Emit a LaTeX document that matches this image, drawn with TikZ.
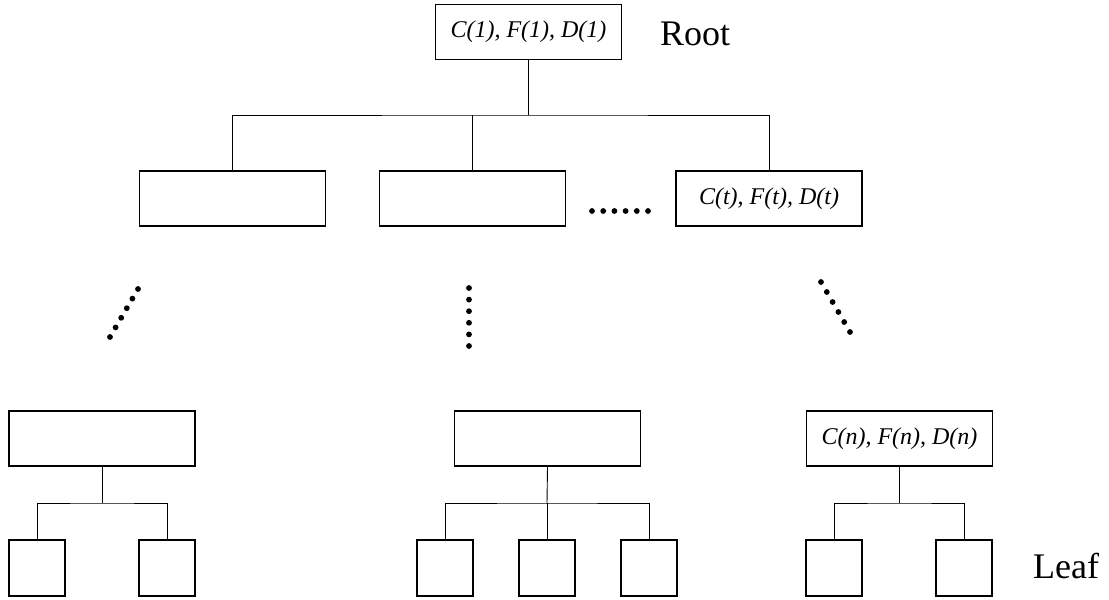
\documentclass[tikz,border=0pt]{standalone}
\usepackage{fontspec}
\setmainfont{Liberation Serif}
\usetikzlibrary{calc,positioning}

\tikzset{
  nodebox/.style={draw,line width=1.5pt,minimum width=186pt,minimum height=55pt,
    inner sep=0pt,font=\fontsize{24}{28}\selectfont\itshape},
  leafbox/.style={draw,line width=1.5pt,minimum width=56pt,minimum height=56pt,inner sep=0pt},
  link/.style={line width=0.9pt},
  tag/.style={font=\fontsize{36}{40}\selectfont,inner sep=0pt}
}

\begin{document}
\begin{tikzpicture}[x=1pt,y=-1pt]
  \useasboundingbox (0,0) rectangle (1109,600);
  % root level
  \node [nodebox] (root) at (528.5,32) {C(1), F(1), D(1)};
  \node [tag,anchor=base west] (roottag) at (660,45) {Root};
  % second level
  \node [nodebox] (m1) at (232.5,198.5) {};
  \node [nodebox] (m2) at (472.5,198.5) {};
  \node [nodebox] (m3) at (769,198.5) {C(t), F(t), D(t)};
  \coordinate (rj) at (528.5,115);
  \draw [link] (root.south) -- (rj);
  \draw [link] (m1.north) |- (rj) -| (m3.north);
  \draw [link] (m2.north) -- (m2.north |- rj);
  % horizontal dots
  \coordinate (h1) at (592,211);
  \coordinate (h2) at (648,211);
  % slanted and vertical dots
  \coordinate (d1a) at (138,289);
  \coordinate (d1b) at (110,337);
  \coordinate (d2a) at (469,288);
  \coordinate (d2b) at (469,346);
  \coordinate (d3a) at (821,282);
  \coordinate (d3b) at (850,332);
  \foreach \a/\b in {h1/h2,d1a/d1b,d2a/d2b,d3a/d3b}
    \foreach \i in {0,...,5}
      \fill ($(\a)!\i/5!(\b)$) circle (2.9pt);
  % bottom level
  \node [nodebox] (b1) at (102,438.5) {};
  \node [nodebox] (b2) at (547.5,438.5) {};
  \node [nodebox] (b3) at (899.5,438.5) {C(n), F(n), D(n)};
  % leaves
  \node [leafbox] (l11) at (37,568) {};
  \node [leafbox] (l12) at (167,568) {};
  \node [leafbox] (l21) at (445,568) {};
  \node [leafbox] (l22) at (547,568) {};
  \node [leafbox] (l23) at (649,568) {};
  \node [leafbox] (l31) at (834,568) {};
  \node [leafbox] (l32) at (964,568) {};
  \node [tag,anchor=base west] (leaftag) at (1033,578) {Leaf};
  \coordinate (j1) at (102,503);
  \coordinate (j2) at (547,503);
  \coordinate (j3) at (899.5,503);
  \draw [link] (b1.south) -- (j1);
  \draw [link] (l11.north) |- (j1) -| (l12.north);
  \draw [link] (b2.south) -- (j2);
  \draw [link] (l21.north) |- (j2) -| (l23.north);
  \draw [link] (l22.north) -- (j2);
  \draw [link] (b3.south) -- (j3);
  \draw [link] (l31.north) |- (j3) -| (l32.north);
\end{tikzpicture}
\end{document}
